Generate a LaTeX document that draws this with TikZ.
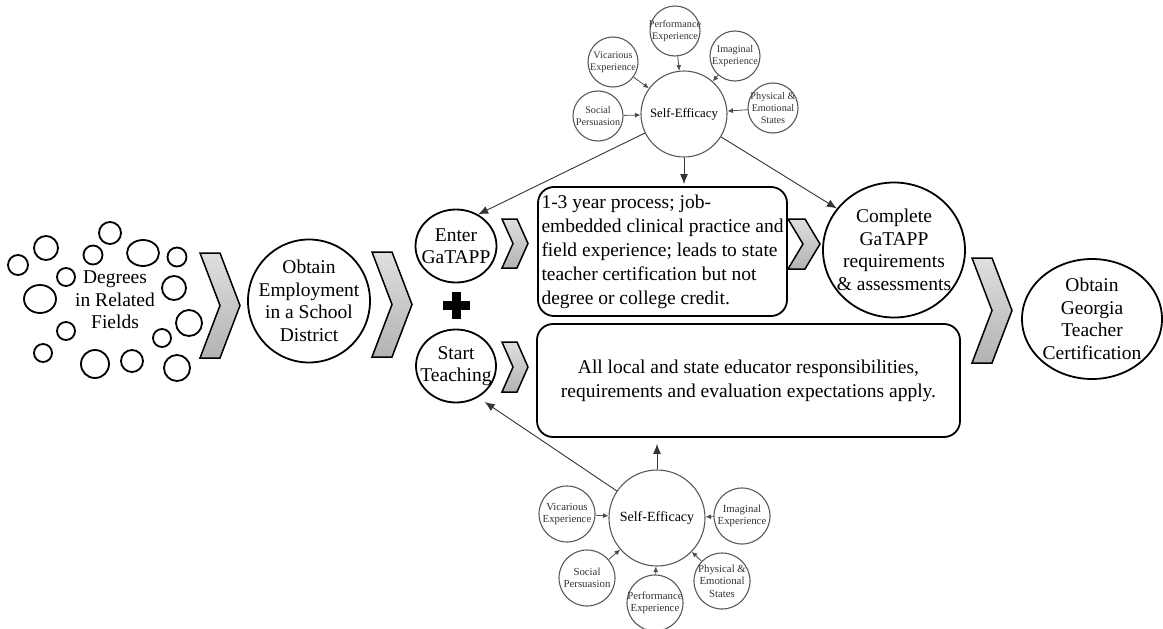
\documentclass[tikz,border=0pt]{standalone}
\usepackage{fontspec}
\setmainfont{Liberation Serif}
\usetikzlibrary{shapes.geometric,arrows.meta,positioning}

\tikzset{
  bubble/.style 2 args={ellipse, draw, line width=1.8pt, inner sep=0pt, minimum width=#1, minimum height=#2},
  bigtext/.style={font=\fontsize{19.5}{22.5}\selectfont, align=center},
  panel/.style={draw, line width=1.8pt, rounded corners=16pt, inner sep=2pt, font=\fontsize{19.5}{24}\selectfont},
  chev/.style={draw, line width=1.5pt, top color=gray!25, bottom color=gray!60},
  efficacy/.style={circle, draw=black!65, line width=1.1pt, inner sep=0pt, minimum size=#1},
  factor/.style={circle, draw=black!65, line width=1.1pt, inner sep=0pt, minimum size=#1},
  factortext/.style={font=\fontsize{10.2}{12}\selectfont, align=center, text=black!80},
  link/.style={-{Latex[length=10pt,width=8pt]}, line width=0.9pt, draw=black!80},
  feed/.style={-{Latex[length=5.5pt,width=5pt]}, line width=0.8pt, draw=black!70},
}

% x, y, width, height, arm
\newcommand{\chevron}[5]{%
  \draw[chev] (#1,#2) -- (#1+#5,#2) -- (#1+#3,#2+#4/2) -- (#1+#5,#2+#4)
    -- (#1,#2+#4) -- (#1+#3-#5,#2+#4/2) -- cycle;}

\begin{document}
\begin{tikzpicture}[x=1pt,y=-1pt]
\useasboundingbox (0,0) rectangle (1163,629);

% degrees cloud
\foreach \cx/\cy/\rx/\ry in {18/265/10/10, 46/248/12/12, 110/233/11/11, 93/255/9.5/9.5,
    143/253/16/13, 177/257/9.5/9.5, 66/277/9/9, 40/299/16/14, 174/288/12/12,
    189/323/13/13, 66/331/9/9, 162/338/9/9, 43/353/9/9, 95/364/14/14,
    132/361/11/11, 177/368/13/13}
  \draw[line width=1.8pt] (\cx,\cy) ellipse [x radius=\rx, y radius=\ry];
\node[bigtext] (degrees) at (115,300) {Degrees\\in Related\\Fields};

% main steps
\node[bubble={122}{123}, label={[bigtext]center:Obtain\\Employment\\in a School\\District}] (employ) at (309,301) {};
\node[bubble={81}{73}, label={[bigtext]center:Enter\\GaTAPP}] (enter) at (456,246) {};
\node[bubble={80}{73}, label={[bigtext]center:Start\\Teaching}] (start) at (456,366) {};
\node[panel, minimum width=249, minimum height=129, align=left] (gatapp) at (662.5,251.5)
  {1-3 year process; job-\\embedded clinical practice and\\field experience; leads to state\\teacher certification but not\\degree or college credit.};
\node[panel, minimum width=423, minimum height=113, align=center] (duties) at (748.5,380.5)
  {All local and state educator responsibilities,\\requirements and evaluation expectations apply.};
\node[bubble={142}{135}, label={[bigtext]center:Complete\\GaTAPP\\requirements\\\& assessments}] (complete) at (894,250) {};
\node[bubble={140}{120}, label={[bigtext]center:Obtain\\Georgia\\Teacher\\Certification}] (certify) at (1092,319) {};

% plus
\fill (442.5,300.5) rectangle (469.5,309.5);
\fill (451.5,291.5) rectangle (460.5,318.5);

% chevrons
\chevron{200}{253}{40}{105}{20}
\chevron{372}{252}{40}{105}{20}
\chevron{502}{219}{26}{49}{15}
\chevron{502}{342}{26}{50}{15}
\chevron{788}{219}{32}{50}{17}
\chevron{972}{258}{40}{105}{20}

% self-efficacy, top
\node[efficacy=86, font=\fontsize{12.75}{14}\selectfont] (se1) at (684,114) {Self-Efficacy};
\node[factor=50, label={[factortext]center:Performance\\Experience}] (perf1) at (675,31) {};
\node[factor=50, label={[factortext]center:Vicarious\\Experience}] (vic1) at (613,62) {};
\node[factor=50, label={[factortext]center:Imaginal\\Experience}] (imag1) at (735,56) {};
\node[factor=50, label={[factortext]center:Social\\Persuasion}] (soc1) at (598,116) {};
\node[factor=50, label={[factortext]center:Physical \&\\Emotional\\States}] (phys1) at (773,108) {};
\foreach \f in {perf1,vic1,imag1,soc1,phys1}
  \draw[feed] (\f) -- (se1);

\draw[link] (se1) -- (enter.55);
\draw[link] (se1.south) -- ([yshift=2]se1.south |- gatapp.north);
\draw[link] (se1) -- (complete.144);

% self-efficacy, bottom
\node[efficacy=96, font=\fontsize{14}{16}\selectfont] (se2) at (657,518) {Self-Efficacy};
\node[factor=56, label={[factortext, font=\fontsize{10.8}{12.5}\selectfont]center:Vicarious\\Experience}] (vic2) at (567,514) {};
\node[factor=56, label={[factortext, font=\fontsize{10.8}{12.5}\selectfont]center:Imaginal\\Experience}] (imag2) at (742,516) {};
\node[factor=56, label={[factortext, font=\fontsize{10.8}{12.5}\selectfont]center:Social\\Persuasion}] (soc2) at (587,578) {};
\node[factor=56, label={[factortext, font=\fontsize{10.8}{12.5}\selectfont]center:Performance\\Experience}] (perf2) at (655,603) {};
\node[factor=56, label={[factortext, font=\fontsize{10.8}{12.5}\selectfont]center:Physical \&\\Emotional\\States}] (phys2) at (722,581) {};
\foreach \f in {vic2,imag2,soc2,perf2,phys2}
  \draw[feed] (\f) -- (se2);

\draw[link, shorten >=8] (se2) -- (start.-55);
\draw[link, shorten >=6] (se2.north) -- (se2.north |- duties.south);

\end{tikzpicture}
\end{document}
